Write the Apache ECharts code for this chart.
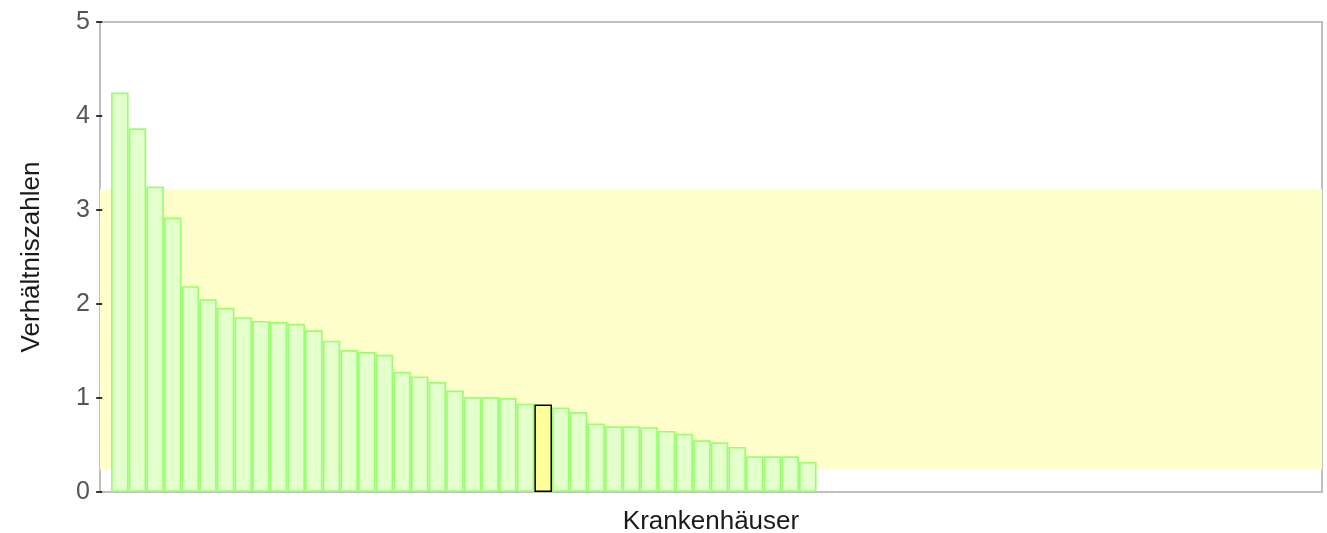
<!DOCTYPE html>
<html>
<head>
<meta charset="utf-8">
<script src="https://cdn.jsdelivr.net/npm/echarts@6/dist/echarts.min.js"></script>
<style>
html,body{margin:0;padding:0;background:#fff;}
#chart{width:1327px;height:533px;}
</style>
</head>
<body>
<div id="chart"></div>
<script>
// Data
const hospitals = Array.from({length: 40}, (_, i) => 'KH ' + (i + 1));
const values = [4.25, 3.87, 3.25, 2.92, 2.19, 2.05, 1.96, 1.86, 1.82, 1.81,
  1.79, 1.72, 1.61, 1.51, 1.49, 1.46, 1.28, 1.23, 1.17, 1.08,
  1.01, 1.01, 1.00, 0.94, 0.93, 0.90, 0.85, 0.73, 0.70, 0.70,
  0.69, 0.65, 0.62, 0.55, 0.53, 0.48, 0.38, 0.38, 0.38, 0.32];
const highlightIndex = 24;
const bandRange = [0.24, 3.22];
const yTicks = [0, 1, 2, 3, 4, 5];

const chart = echarts.init(document.getElementById('chart'));
const font = 'Liberation Sans, Arial, sans-serif';
const seriesData = values.map((v, i) => {
  const d = { value: [i + 1, v], name: hospitals[i] };
  if (i === highlightIndex) {
    d.itemStyle = { color: '#ffff99', borderColor: '#000000', borderWidth: 1.5 };
  }
  return d;
});

chart.setOption({
  animation: false,
  backgroundColor: '#ffffff',
  grid: {
    left: 100, right: 5, top: 22, bottom: 41,
    outerBoundsMode: 'none',
    containLabel: false,
    show: true, borderColor: '#c0c0c0', borderWidth: 2, backgroundColor: 'transparent'
  },
  xAxis: {
    type: 'value',
    min: -0.124, max: 69.15,
    name: 'Krankenhäuser',
    nameLocation: 'middle',
    nameGap: 17,
    nameTextStyle: { fontFamily: font, fontSize: 26, color: '#1a1a1a' },
    axisLine: { show: false },
    axisTick: { show: false },
    axisLabel: { show: false },
    splitLine: { show: false }
  },
  yAxis: {
    type: 'value',
    min: yTicks[0], max: yTicks[yTicks.length - 1], interval: 1,
    name: 'Verhältniszahlen',
    nameLocation: 'middle',
    nameGap: 55,
    nameTextStyle: { fontFamily: font, fontSize: 26, color: '#1a1a1a' },
    axisLine: { show: false },
    axisTick: { show: true, length: 6, lineStyle: { color: '#333333', width: 2 } },
    axisLabel: { fontFamily: font, fontSize: 25, color: '#555555', margin: 10 },
    splitLine: { show: false }
  },
  series: [{
    type: 'bar',
    data: seriesData,
    barWidth: 17.6,
    itemStyle: { color: '#e2ffcc', borderColor: '#99ff70', borderWidth: 1.7 },
    markArea: {
      silent: true,
      z: 0,
      itemStyle: { color: '#ffffcc' },
      data: [[{ yAxis: bandRange[0] }, { yAxis: bandRange[1] }]]
    }
  }]
});
</script>
</body>
</html>
